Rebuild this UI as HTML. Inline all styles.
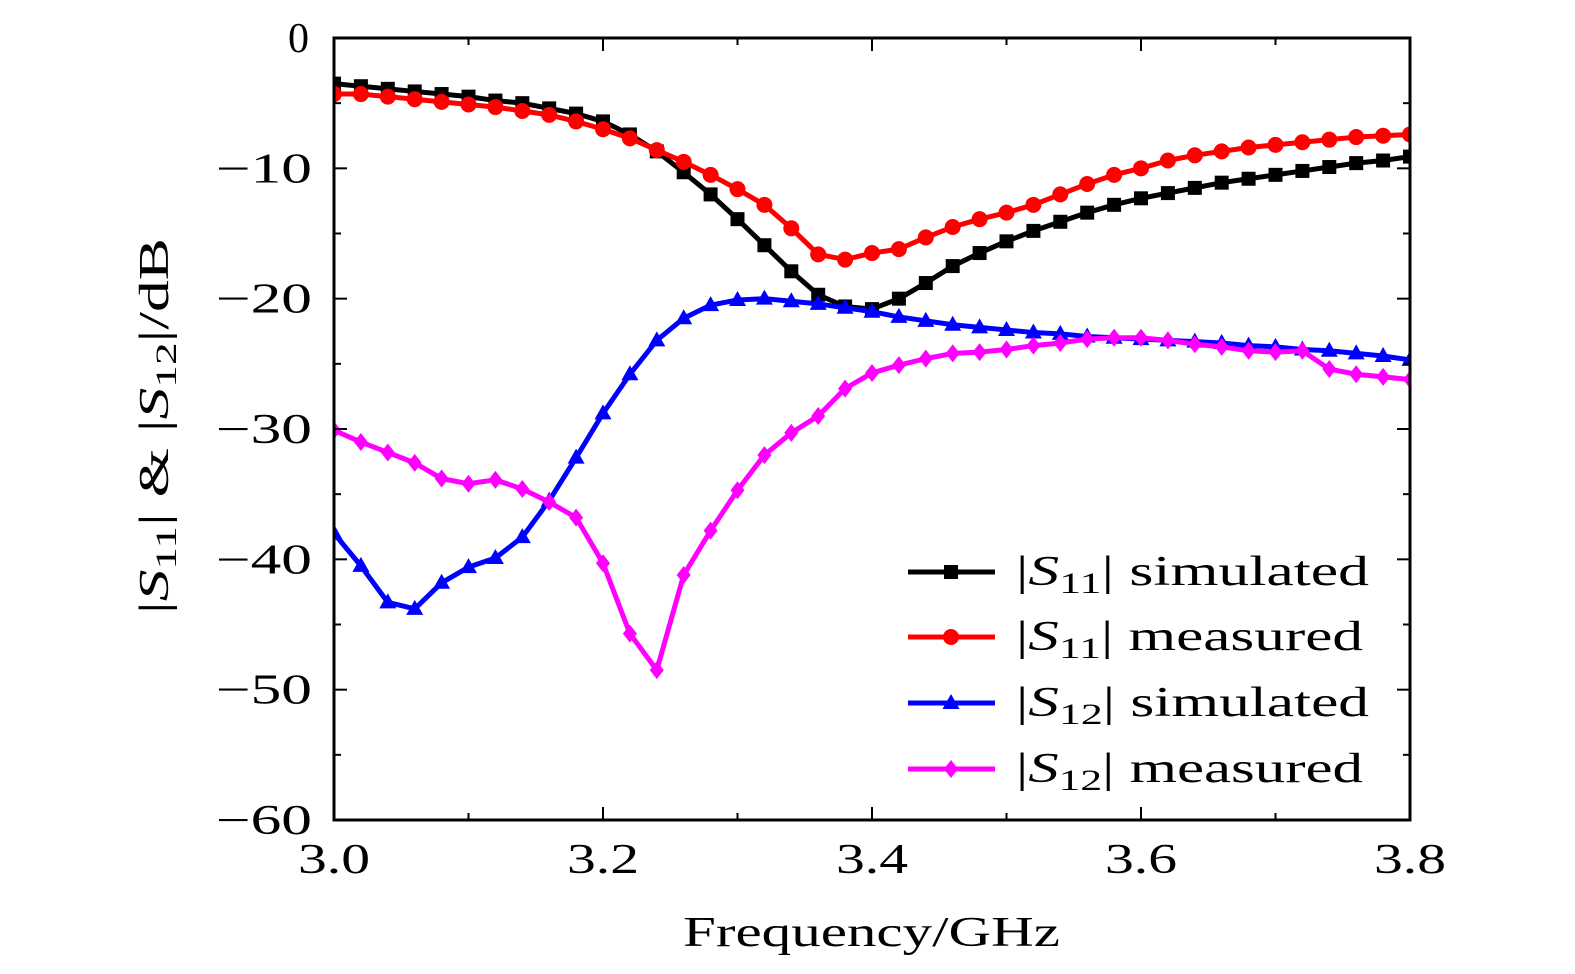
<!DOCTYPE html>
<html><head><meta charset="utf-8"><style>body{margin:0;background:#fff}svg{display:block}text{font-family:"Liberation Serif",serif;fill:#000}</style></head>
<body>
<svg id="s" width="1575" height="974" viewBox="0 0 1575 974" xmlns="http://www.w3.org/2000/svg"></svg>
<script>
const S=document.getElementById('s');
const X0=334,X1=1410,Y0=38,Y1=820;
const fx=f=>X0+(f-3)/0.8*(X1-X0), fy=d=>Y0+(-d)/60*(Y1-Y0);
let h='';
const black=[-3.5,-3.7,-3.9,-4.1,-4.3,-4.5,-4.8,-5.0,-5.4,-5.8,-6.4,-7.4,-8.7,-10.3,-12.0,-13.9,-15.9,-17.9,-19.7,-20.6,-20.8,-20.0,-18.8,-17.5,-16.5,-15.6,-14.8,-14.1,-13.4,-12.8,-12.3,-11.9,-11.5,-11.1,-10.8,-10.5,-10.2,-9.9,-9.6,-9.4,-9.1];
const red=[-4.3,-4.3,-4.5,-4.7,-4.9,-5.1,-5.3,-5.6,-5.9,-6.4,-7.0,-7.7,-8.6,-9.5,-10.5,-11.6,-12.8,-14.6,-16.6,-17.0,-16.5,-16.2,-15.3,-14.5,-13.9,-13.4,-12.8,-12.0,-11.2,-10.5,-10.0,-9.4,-9.0,-8.7,-8.4,-8.2,-8.0,-7.8,-7.6,-7.5,-7.4];
const blue=[-38,-40.5,-43.3,-43.8,-41.8,-40.6,-39.9,-38.3,-35.5,-32.2,-28.8,-25.8,-23.2,-21.5,-20.5,-20.1,-20.0,-20.2,-20.4,-20.7,-21.0,-21.4,-21.7,-22.0,-22.2,-22.4,-22.6,-22.7,-22.9,-23.0,-23.1,-23.2,-23.3,-23.4,-23.6,-23.7,-23.9,-24.0,-24.2,-24.4,-24.7];
const mag=[-30.1,-31.0,-31.8,-32.6,-33.8,-34.2,-33.9,-34.6,-35.6,-36.8,-40.3,-45.7,-48.5,-41.2,-37.8,-34.7,-32.0,-30.3,-29.0,-26.9,-25.7,-25.1,-24.6,-24.2,-24.1,-23.9,-23.6,-23.4,-23.1,-23.0,-23.0,-23.2,-23.5,-23.7,-24.0,-24.1,-24.0,-25.4,-25.8,-26.0,-26.2];
function mk(t,x,y,c){
 if(t=='s')return `<rect x="${x-7}" y="${y-7}" width="14" height="14" fill="${c}"/>`;
 if(t=='c')return `<circle cx="${x}" cy="${y}" r="8" fill="${c}"/>`;
 if(t=='t')return `<polygon points="${x},${y-9} ${x-8.5},${y+6} ${x+8.5},${y+6}" fill="${c}"/>`;
 return `<polygon points="${x},${y-9} ${x-7},${y} ${x},${y+9} ${x+7},${y}" fill="${c}"/>`;
}
h+=`<clipPath id="cp"><rect x="${X0}" y="${Y0-12}" width="${X1-X0}" height="${Y1-Y0+24}"/></clipPath><g clip-path="url(#cp)">`;
[[black,'#000','s'],[red,'#f00','c'],[blue,'#00f','t'],[mag,'#f0f','d']].forEach(([d,c,t])=>{
 const p=d.map((v,i)=>[fx(3+i*0.02),fy(v)]);
 h+=`<polyline points="${p.map(a=>a.join(',')).join(' ')}" fill="none" stroke="${c}" stroke-width="5" stroke-linejoin="round"/>`;
 p.forEach(a=>h+=mk(t,a[0],a[1],c));
});
h+='</g>';
h+=`<rect x="${X0}" y="${Y0}" width="${X1-X0}" height="${Y1-Y0}" fill="none" stroke="#000" stroke-width="3"/>`;
for(let i=0;i<=8;i++){const x=fx(3+i*0.1),L=i%2?7:13;h+=`<line x1="${x}" y1="${Y1}" x2="${x}" y2="${Y1-L}" stroke="#000" stroke-width="2"/><line x1="${x}" y1="${Y0}" x2="${x}" y2="${Y0+L}" stroke="#000" stroke-width="2"/>`;
 if(i%2==0)h+=`<text x="${x-36}" y="873" font-size="42" textLength="72" lengthAdjust="spacingAndGlyphs">${(3+i*0.1).toFixed(1)}</text>`;}
for(let i=0;i<=12;i++){const y=fy(-i*5),L=i%2?7:13;h+=`<line x1="${X0}" y1="${y}" x2="${X0+L}" y2="${y}" stroke="#000" stroke-width="2"/><line x1="${X1}" y1="${y}" x2="${X1-L}" y2="${y}" stroke="#000" stroke-width="2"/>`;
 if(i%2==0){ if(i) h+=`<text x="216" y="${y+14}" font-size="42" textLength="96" lengthAdjust="spacingAndGlyphs">\u2212${i*5}</text>`; else h+=`<text x="288" y="${y+14}" font-size="42">0</text>`;}}
h+=`<text x="683" y="946" font-size="42" textLength="377" lengthAdjust="spacingAndGlyphs">Frequency/GHz</text>`;
h+=`<g transform="translate(168,614) rotate(-90)"><text x="0" y="0" font-size="42" textLength="376" lengthAdjust="spacingAndGlyphs">|<tspan font-style="italic">S</tspan><tspan font-size="30" dy="8">11</tspan><tspan dy="-8">| &amp; |</tspan><tspan font-style="italic">S</tspan><tspan font-size="30" dy="8">12</tspan><tspan dy="-8">|/dB</tspan></text></g>`;
[['#000','s','11','simulated',572,353],['#f00','c','11','measured',637,347],['#00f','t','12','simulated',703,353],['#f0f','d','12','measured',769,347]].forEach(([c,t,n,w,y,L])=>{
 h+=`<line x1="908" y1="${y}" x2="995" y2="${y}" stroke="${c}" stroke-width="5"/>`+mk(t,951,y,c);
 h+=`<text x="1016" y="${y+13}" font-size="42" textLength="${L}" lengthAdjust="spacingAndGlyphs">|<tspan font-style="italic">S</tspan><tspan font-size="30" dy="8">${n}</tspan><tspan dy="-8">| ${w}</tspan></text>`;
});
S.innerHTML=h;
</script>
</body></html>
